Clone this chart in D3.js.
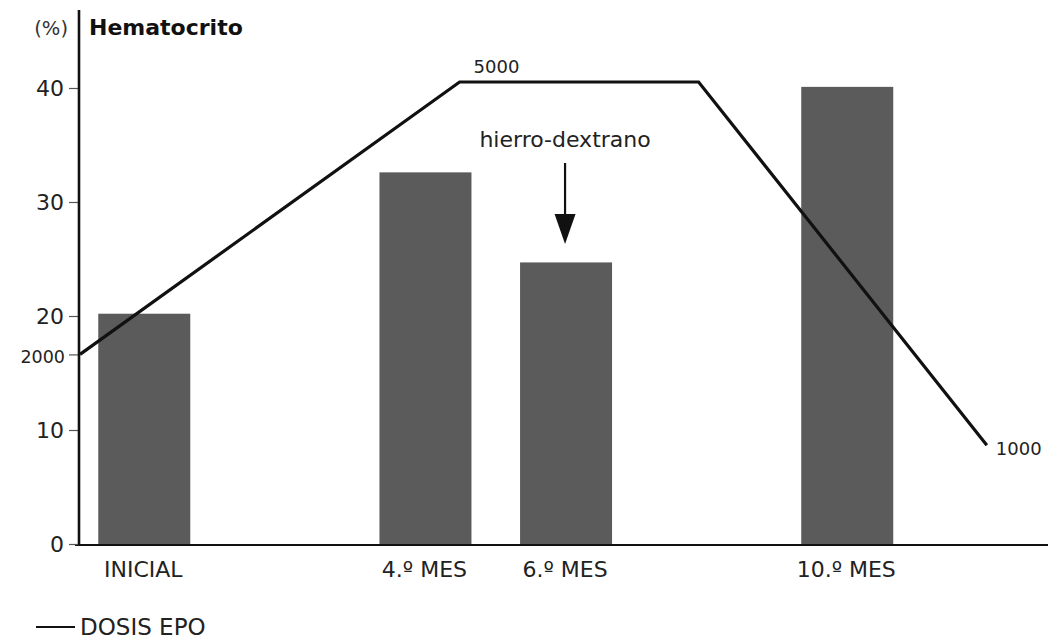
<!DOCTYPE html>
<html>
<head>
<meta charset="utf-8">
<script src="https://cdn.jsdelivr.net/npm/d3@7"></script>
<style>
  html, body { margin: 0; padding: 0; background: #fff; }
  svg { display: block; font-family: "DejaVu Sans", sans-serif; }
</style>
</head>
<body>
<svg id="chart" width="1051" height="640"></svg>
<script>
// Hematocrit at each checkpoint (bars)
const categories = ["INICIAL", "4.º MES", "6.º MES", "10.º MES"];
const months = [0, 4, 6, 10];
const hematocrit = [20.2, 32.6, 24.7, 40.1];
const yTicks = [0, 10, 20, 30, 40];

// EPO dose schedule (line), in months from start
const doseMonths = [-0.9, 4.5, 7.9, 12];
const doseValues = [2000, 5000, 5000, 1000];

// Iron-dextran event
const ironMonth = 6;
const ironLabel = "hierro-dextrano";

const svg = d3.select("#chart");

const x = d3.scaleLinear().domain([-0.9, 12.87]).range([80, 1048]);
const y = d3.scaleLinear().domain([0, 40]).range([544, 88]);
const dose = d3.scaleLinear().domain([0, 5000]).range([536, 82]);
const barW = 92;

// Bars
svg.append("g")
  .selectAll("rect")
  .data(hematocrit)
  .join("rect")
  .attr("x", (d, i) => x(months[i]) - barW / 2 + 1)
  .attr("y", d => y(d))
  .attr("width", barW)
  .attr("height", d => y(0) - y(d))
  .attr("fill", "#5b5b5b");

// X axis baseline
svg.append("line")
  .attr("x1", 75).attr("x2", x.range()[1])
  .attr("y1", y(0) + 1).attr("y2", y(0) + 1)
  .attr("stroke", "#111").attr("stroke-width", 2.2);

// Category labels
svg.append("g")
  .selectAll("text")
  .data(categories)
  .join("text")
  .attr("x", (d, i) => x(months[i]))
  .attr("y", 577)
  .attr("text-anchor", "middle")
  .attr("font-size", 22)
  .attr("fill", "#222")
  .text(d => d);

// Y axis (hematocrit)
const yAxis = d3.axisLeft(y).tickValues(yTicks).tickSize(10).tickPadding(5).tickFormat(d3.format("d"));
const gy = svg.append("g")
  .attr("transform", `translate(${x.range()[0] - 1},0)`)
  .call(yAxis);
gy.select(".domain").remove();
gy.selectAll(".tick line").attr("stroke", "#555").attr("stroke-width", 1.2);
gy.selectAll(".tick text")
  .attr("font-family", "DejaVu Sans, sans-serif")
  .attr("font-size", 22)
  .attr("fill", "#222");

// Dose tick on the same axis (starting dose)
const doseAxis = d3.axisLeft(dose).tickValues([doseValues[0]]).tickSize(10).tickPadding(4);
const gd = svg.append("g")
  .attr("transform", `translate(${x.range()[0] - 1},0)`)
  .call(doseAxis);
gd.select(".domain").remove();
gd.selectAll(".tick line").attr("stroke", "#555").attr("stroke-width", 1.2);
gd.selectAll(".tick text")
  .attr("font-family", "DejaVu Sans, sans-serif")
  .attr("font-size", 17.5)
  .attr("dy", "0.45em")
  .attr("fill", "#222")
  .text(d => d);

// Vertical axis line
svg.append("line")
  .attr("x1", x.range()[0] - 1).attr("x2", x.range()[0] - 1)
  .attr("y1", 10).attr("y2", y(0) + 2)
  .attr("stroke", "#111").attr("stroke-width", 2.6);

// Axis title
svg.append("text")
  .attr("x", 68).attr("y", 35)
  .attr("text-anchor", "end")
  .attr("font-size", 19.5)
  .attr("fill", "#333")
  .text("(%)");
svg.append("text")
  .attr("x", 89).attr("y", 35)
  .attr("font-size", 22)
  .attr("font-weight", "bold")
  .attr("fill", "#111")
  .text("Hematocrito");

// EPO dose line
const pts = doseMonths.map((m, i) => [x(m), dose(doseValues[i])]);
svg.append("path")
  .attr("d", d3.line()(pts))
  .attr("fill", "none")
  .attr("stroke", "#111")
  .attr("stroke-width", 3.2)
  .attr("stroke-linejoin", "miter");

// Dose labels at the peak and the end
svg.append("text")
  .attr("x", pts[1][0] + 14).attr("y", pts[1][1] - 9)
  .attr("font-size", 18)
  .attr("fill", "#222")
  .text(doseValues[1]);
svg.append("text")
  .attr("x", pts[3][0] + 9).attr("y", pts[3][1] + 10)
  .attr("font-size", 18)
  .attr("fill", "#222")
  .text(doseValues[3]);

// Iron-dextran arrow
const ax = x(ironMonth);
svg.append("text")
  .attr("x", ax).attr("y", 147)
  .attr("text-anchor", "middle")
  .attr("font-size", 22)
  .attr("fill", "#222")
  .text(ironLabel);
svg.append("line")
  .attr("x1", ax).attr("x2", ax)
  .attr("y1", 163).attr("y2", 216)
  .attr("stroke", "#111").attr("stroke-width", 2.2);
svg.append("path")
  .attr("d", `M${ax - 10.5},214 L${ax + 10.5},214 L${ax},244 Z`)
  .attr("fill", "#111");

// Legend
svg.append("line")
  .attr("x1", 36).attr("x2", 75)
  .attr("y1", 627).attr("y2", 627)
  .attr("stroke", "#111").attr("stroke-width", 2);
svg.append("text")
  .attr("x", 80).attr("y", 635)
  .attr("font-size", 23)
  .attr("fill", "#222")
  .text("DOSIS EPO");
</script>
</body>
</html>
